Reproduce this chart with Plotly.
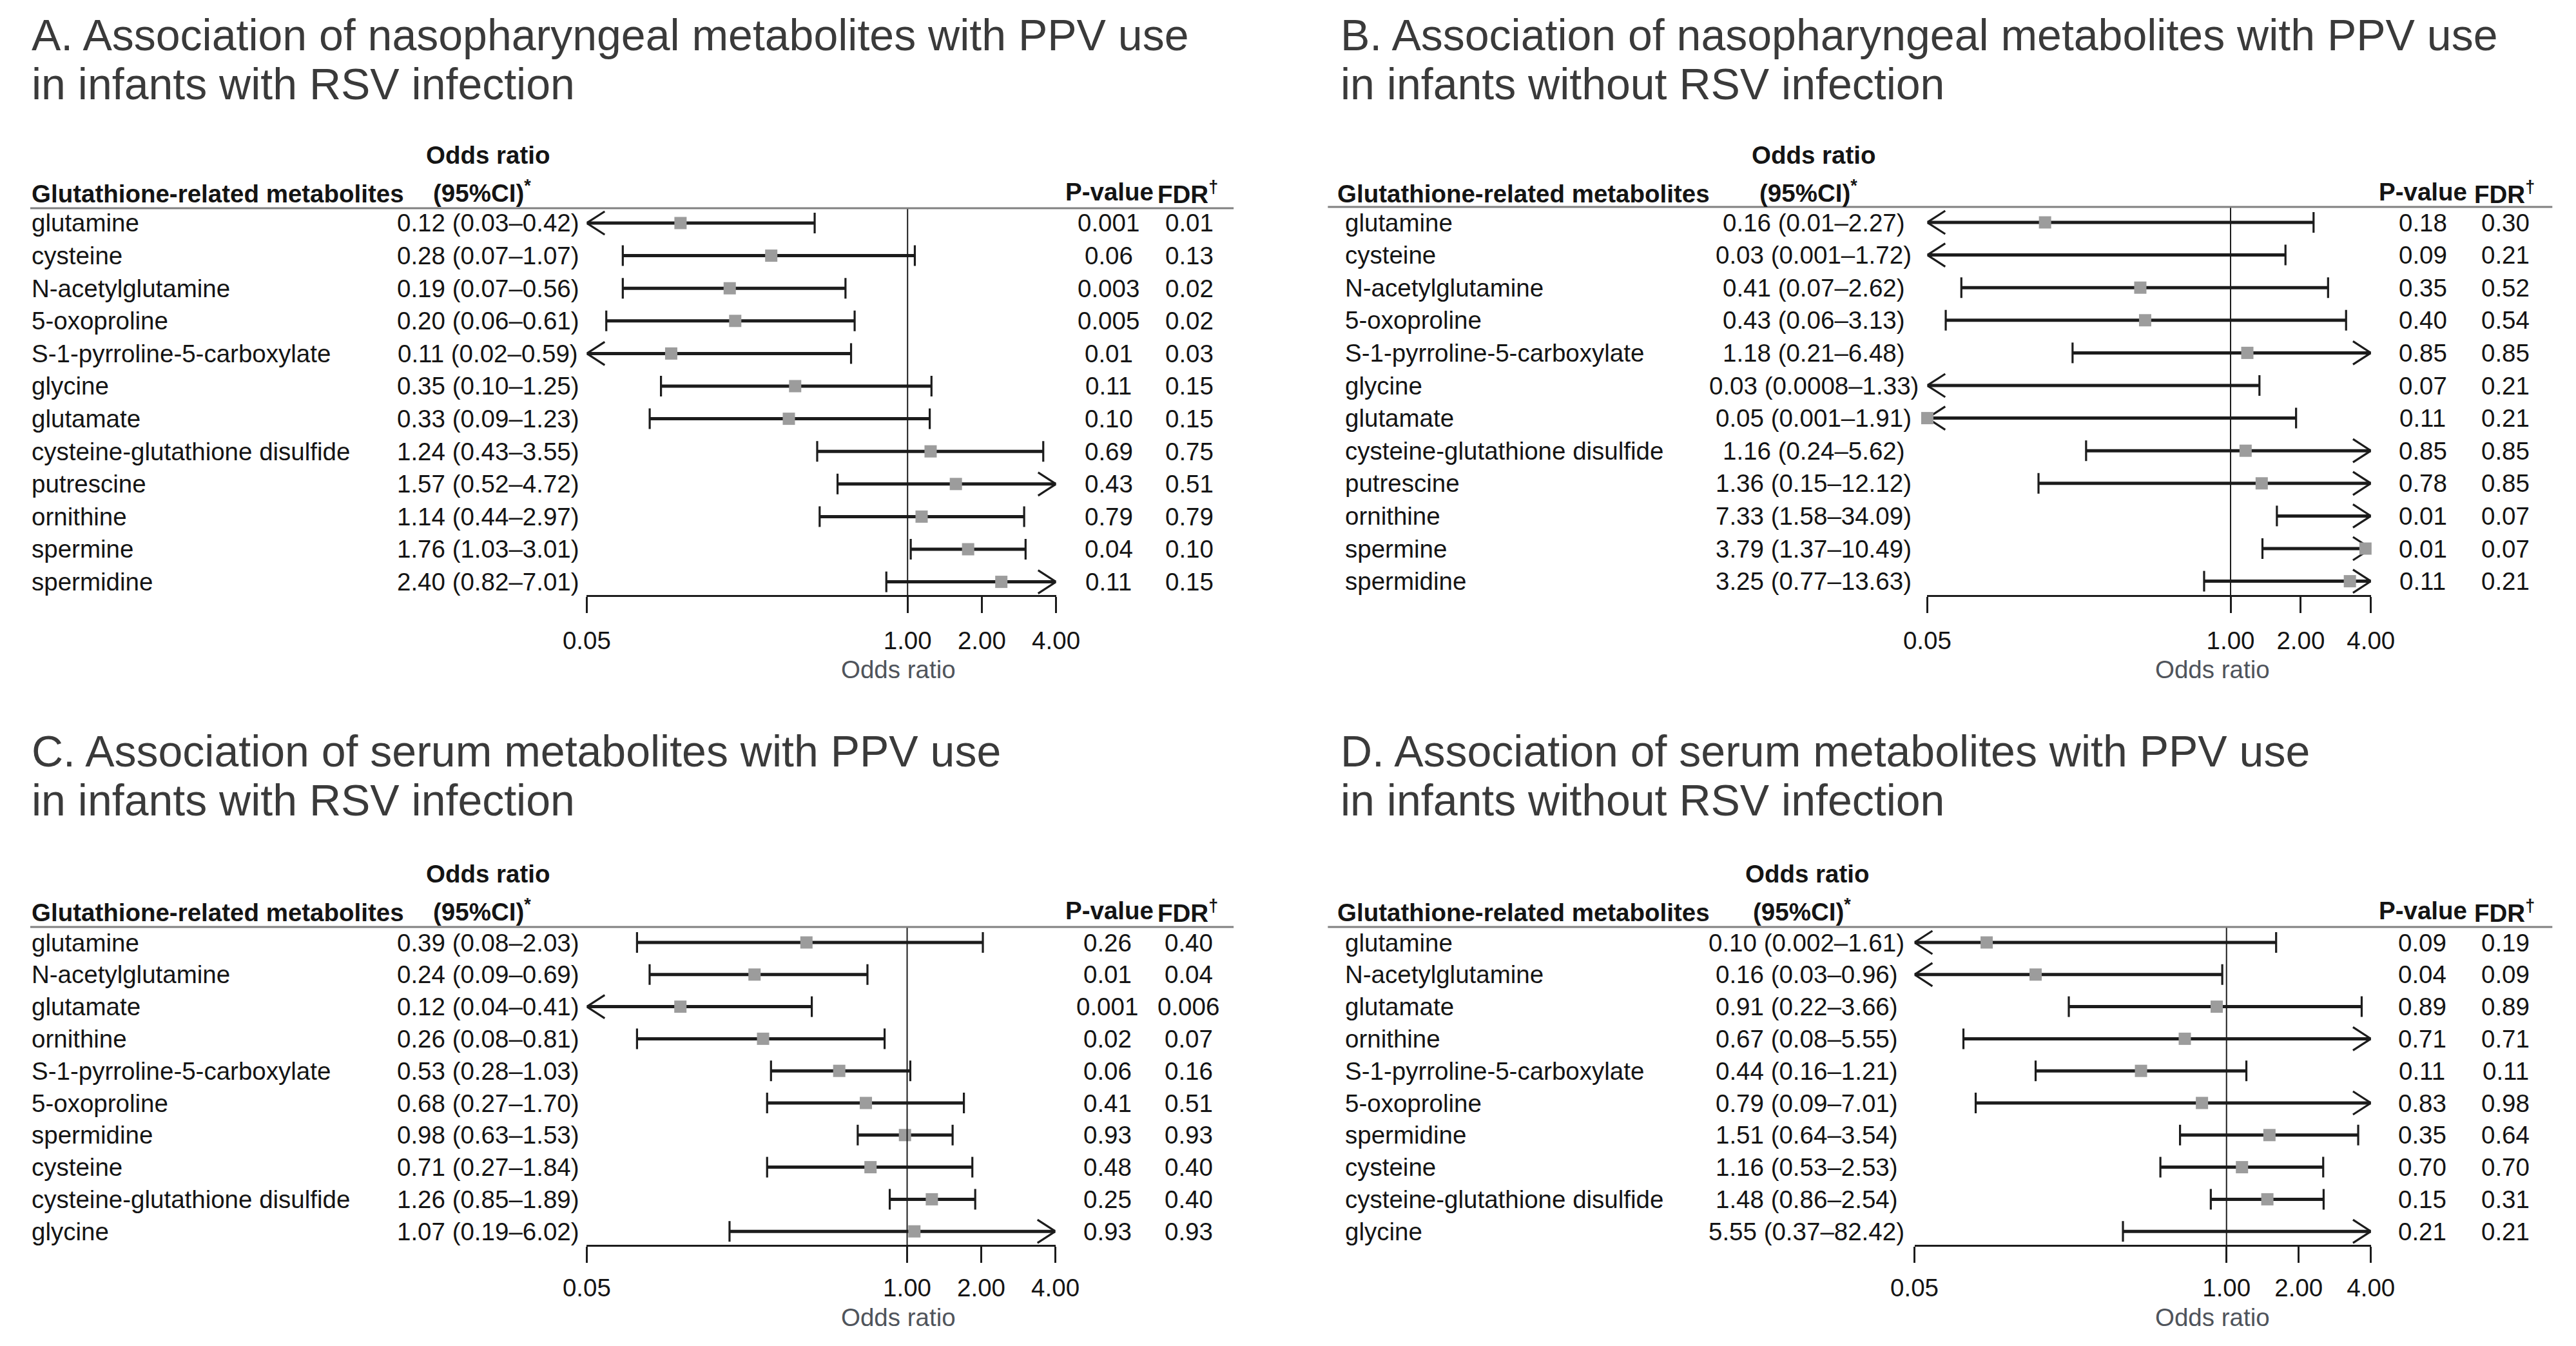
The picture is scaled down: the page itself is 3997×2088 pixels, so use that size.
import math
import plotly.graph_objects as go

# reference canvas and figure canvas (figure leaves room for the page's 8px body margin)
W_REF, H_REF = 3997, 2088
PAGE_MARGIN = 8
W, H = W_REF - 2 * PAGE_MARGIN, H_REF - 2 * PAGE_MARGIN
# observed placement of the figure inside the photographed page (photo px)
OX, SX = 44.0, 0.9866
OY, SY = 8.0, 1.0
FONT = "Liberation Sans, Arial, Helvetica, sans-serif"

# ---------------- data ----------------
NP_names = ["glutamine", "cysteine", "N-acetylglutamine", "5-oxoproline",
            "S-1-pyrroline-5-carboxylate", "glycine", "glutamate",
            "cysteine-glutathione disulfide", "putrescine", "ornithine",
            "spermine", "spermidine"]
A_or = [0.12, 0.28, 0.19, 0.20, 0.11, 0.35, 0.33, 1.24, 1.57, 1.14, 1.76, 2.40]
A_lo = [0.03, 0.07, 0.07, 0.06, 0.02, 0.10, 0.09, 0.43, 0.52, 0.44, 1.03, 0.82]
A_hi = [0.42, 1.07, 0.56, 0.61, 0.59, 1.25, 1.23, 3.55, 4.72, 2.97, 3.01, 7.01]
A_p = [0.001, 0.06, 0.003, 0.005, 0.01, 0.11, 0.10, 0.69, 0.43, 0.79, 0.04, 0.11]
A_fdr = [0.01, 0.13, 0.02, 0.02, 0.03, 0.15, 0.15, 0.75, 0.51, 0.79, 0.10, 0.15]

B_or = [0.16, 0.03, 0.41, 0.43, 1.18, 0.03, 0.05, 1.16, 1.36, 7.33, 3.79, 3.25]
B_lo = [0.01, 0.001, 0.07, 0.06, 0.21, 0.0008, 0.001, 0.24, 0.15, 1.58, 1.37, 0.77]
B_hi = [2.27, 1.72, 2.62, 3.13, 6.48, 1.33, 1.91, 5.62, 12.12, 34.09, 10.49, 13.63]
B_p = [0.18, 0.09, 0.35, 0.40, 0.85, 0.07, 0.11, 0.85, 0.78, 0.01, 0.01, 0.11]
B_fdr = [0.30, 0.21, 0.52, 0.54, 0.85, 0.21, 0.21, 0.85, 0.85, 0.07, 0.07, 0.21]

SE_names = ["glutamine", "N-acetylglutamine", "glutamate", "ornithine",
            "S-1-pyrroline-5-carboxylate", "5-oxoproline", "spermidine",
            "cysteine", "cysteine-glutathione disulfide", "glycine"]
C_or = [0.39, 0.24, 0.12, 0.26, 0.53, 0.68, 0.98, 0.71, 1.26, 1.07]
C_lo = [0.08, 0.09, 0.04, 0.08, 0.28, 0.27, 0.63, 0.27, 0.85, 0.19]
C_hi = [2.03, 0.69, 0.41, 0.81, 1.03, 1.70, 1.53, 1.84, 1.89, 6.02]
C_p = [0.26, 0.01, 0.001, 0.02, 0.06, 0.41, 0.93, 0.48, 0.25, 0.93]
C_fdr = [0.40, 0.04, 0.006, 0.07, 0.16, 0.51, 0.93, 0.40, 0.40, 0.93]

D_or = [0.10, 0.16, 0.91, 0.67, 0.44, 0.79, 1.51, 1.16, 1.48, 5.55]
D_lo = [0.002, 0.03, 0.22, 0.08, 0.16, 0.09, 0.64, 0.53, 0.86, 0.37]
D_hi = [1.61, 0.96, 3.66, 5.55, 1.21, 7.01, 3.54, 2.53, 2.54, 82.42]
D_p = [0.09, 0.04, 0.89, 0.71, 0.11, 0.83, 0.35, 0.70, 0.15, 0.21]
D_fdr = [0.19, 0.09, 0.89, 0.71, 0.11, 0.98, 0.64, 0.70, 0.31, 0.21]

TITLES = {
    "A": ["A. Association of nasopharyngeal metabolites with PPV use", "in infants with RSV infection"],
    "B": ["B. Association of nasopharyngeal metabolites with PPV use", "in infants without RSV infection"],
    "C": ["C. Association of serum metabolites with PPV use", "in infants with RSV infection"],
    "D": ["D. Association of serum metabolites with PPV use", "in infants without RSV infection"],
}
TICK_VALS = [0.05, 1, 2, 4]
TICK_TEXT = ["0.05", "1.00", "2.00", "4.00"]
X_MIN, X_MAX = 0.05, 4.0

# ---------------- layout geometry (reference pixels) ----------------
PANELS = [
    dict(key="A", names=NP_names, orv=A_or, lo=A_lo, hi=A_hi, p=A_p, fdr=A_fdr,
         title_x=36, title_y=[54, 130], or_hdr_x=760, ci_hdr_x=751, met_hdr_x=32,
         p_hdr_x=1729, fdr_hdr_x=1852, hdr1_y=241, hdr2_y=297,
         line_y=323, line_x0=19, line_x1=1923,
         names_x=41, or_x=760, p_x=1728, fdr_x=1854, r0=346, dy=50.6,
         ax_x0=914, ax_x1=1646, ax_y=923, axt_x=1400, axt_y=1038, tl_standoff=10),
    dict(key="B", names=NP_names, orv=B_or, lo=B_lo, hi=B_hi, p=B_p, fdr=B_fdr,
         title_x=2088, title_y=[54, 130], or_hdr_x=2828, ci_hdr_x=2820, met_hdr_x=2083,
         p_hdr_x=3778, fdr_hdr_x=3905, hdr1_y=241, hdr2_y=297,
         line_y=321, line_x0=2070, line_x1=3980,
         names_x=2095, or_x=2828, p_x=3778, fdr_x=3907, r0=345, dy=50.6,
         ax_x0=3005, ax_x1=3697, ax_y=923, axt_x=3450, axt_y=1038, tl_standoff=10),
    dict(key="C", names=SE_names, orv=C_or, lo=C_lo, hi=C_hi, p=C_p, fdr=C_fdr,
         title_x=36, title_y=[1165, 1241], or_hdr_x=760, ci_hdr_x=751, met_hdr_x=32,
         p_hdr_x=1729, fdr_hdr_x=1852, hdr1_y=1355, hdr2_y=1412,
         line_y=1438, line_x0=19, line_x1=1923,
         names_x=41, or_x=760, p_x=1726, fdr_x=1853, r0=1462, dy=49.8,
         ax_x0=914, ax_x1=1645, ax_y=1931, axt_x=1400, axt_y=2043, tl_standoff=6),
    dict(key="D", names=SE_names, orv=D_or, lo=D_lo, hi=D_hi, p=D_p, fdr=D_fdr,
         title_x=2088, title_y=[1165, 1241], or_hdr_x=2818, ci_hdr_x=2810, met_hdr_x=2083,
         p_hdr_x=3778, fdr_hdr_x=3905, hdr1_y=1355, hdr2_y=1412,
         line_y=1438, line_x0=2070, line_x1=3980,
         names_x=2095, or_x=2817, p_x=3777, fdr_x=3907, r0=1462, dy=49.8,
         ax_x0=2985, ax_x1=3697, ax_y=1931, axt_x=3450, axt_y=2043, tl_standoff=6),
]

TXT = "#141414"
TITLE_C = "#3a3a3a"
LINE_C = "#1c1c1c"
BOX_C = "#9c9c9c"
FS = 38.5
TFS = 68
ARROW_LEN_PX = 28
ARROW_HALF_PX = 18
CAP_HALF_PX = 16


def fmt(v):
    return f"{v:.2f}" if v >= 0.01 else f"{v:g}"


def fx(r):
    return max((r - OX) / SX, 2.0)


def fy(r):
    return (r - OY) / SY


def px(r):
    return fx(r) / W


def py(r):
    return 1 - fy(r) / H


fig = go.Figure()
annotations = []
shapes = []

for k, cfg in enumerate(PANELS, start=1):
    xa = "x" if k == 1 else f"x{k}"
    ya = "y" if k == 1 else f"y{k}"
    xname = "xaxis" if k == 1 else f"xaxis{k}"
    yname = "yaxis" if k == 1 else f"yaxis{k}"
    r0, dy = cfg["r0"], cfg["dy"]
    n = len(cfg["names"])
    y_top = (cfg["line_y"] - r0) / dy
    y_bot = (cfg["ax_y"] - r0) / dy

    fig.layout[xname] = dict(
        type="log", range=[math.log10(X_MIN), math.log10(X_MAX)],
        domain=[px(cfg["ax_x0"]), px(cfg["ax_x1"])], anchor=ya,
        showline=True, linecolor=LINE_C, linewidth=3,
        ticks="outside", ticklen=25, tickwidth=2.5, tickcolor=LINE_C,
        tickvals=TICK_VALS, ticktext=TICK_TEXT,
        tickfont=dict(family=FONT, size=FS, color=TXT),
        ticklabelstandoff=cfg["tl_standoff"],
        showgrid=False, zeroline=False, fixedrange=True)
    fig.layout[yname] = dict(
        range=[y_bot, y_top], domain=[py(cfg["ax_y"]), py(cfg["line_y"])],
        anchor=xa, visible=False, showgrid=False, zeroline=False, fixedrange=True)

    pxper = (fx(cfg["ax_x1"]) - fx(cfg["ax_x0"])) / math.log10(X_MAX / X_MIN)
    kfac = 10 ** ((ARROW_LEN_PX / SX) / pxper)
    ah = ARROW_HALF_PX / dy
    ch = CAP_HALF_PX / dy

    # CI lines, caps and arrowheads
    lx, ly = [], []
    cx, cy = [], []
    for i, (lo, hi) in enumerate(zip(cfg["lo"], cfg["hi"])):
        a = max(lo, X_MIN)
        b = min(hi, X_MAX)
        lx += [a, b, None]
        ly += [i, i, None]
        if lo < X_MIN:
            cx += [X_MIN * kfac, X_MIN, X_MIN * kfac, None]
            cy += [i - ah, i, i + ah, None]
        else:
            cx += [lo, lo, None]
            cy += [i - ch, i + ch, None]
        if hi > X_MAX:
            cx += [X_MAX / kfac, X_MAX, X_MAX / kfac, None]
            cy += [i - ah, i, i + ah, None]
        else:
            cx += [hi, hi, None]
            cy += [i - ch, i + ch, None]
    fig.add_trace(go.Scatter(x=lx, y=ly, mode="lines", xaxis=xa, yaxis=ya,
                             line=dict(color=LINE_C, width=5), cliponaxis=False,
                             hoverinfo="skip", showlegend=False))
    fig.add_trace(go.Scatter(x=cx, y=cy, mode="lines", xaxis=xa, yaxis=ya,
                             line=dict(color=LINE_C, width=3.2), cliponaxis=False,
                             hoverinfo="skip", showlegend=False))
    # point estimates
    ptx = [v for v in cfg["orv"] if X_MIN <= v <= X_MAX]
    pty = [i for i, v in enumerate(cfg["orv"]) if X_MIN <= v <= X_MAX]
    fig.add_trace(go.Scatter(x=ptx, y=pty, mode="markers", xaxis=xa, yaxis=ya,
                             marker=dict(symbol="square", size=19, color=BOX_C,
                                         line=dict(width=0)),
                             cliponaxis=False, hoverinfo="skip", showlegend=False))

    # reference line at OR = 1
    shapes.append(dict(type="line", xref=xa, yref=f"{ya} domain", x0=1, x1=1, y0=0, y1=1,
                       line=dict(color=LINE_C, width=2)))
    # header rule
    shapes.append(dict(type="line", xref="paper", yref="paper",
                       x0=px(cfg["line_x0"]), x1=px(cfg["line_x1"]),
                       y0=py(cfg["line_y"]), y1=py(cfg["line_y"]),
                       line=dict(color="#808080", width=3)))

    # titles
    for j, t in enumerate(TITLES[cfg["key"]]):
        annotations.append(dict(text=t, xref="paper", yref="paper",
                                x=px(cfg["title_x"]), y=py(cfg["title_y"][j]),
                                xanchor="left", yanchor="middle", showarrow=False,
                                font=dict(family=FONT, size=TFS, color=TITLE_C)))
    # column headers
    hb = dict(family=FONT, size=FS, color=TXT, weight="bold")
    hdrs = [
        dict(text="<b>Odds ratio</b>", x=px(cfg["or_hdr_x"]), y=py(cfg["hdr1_y"]),
             xanchor="center"),
        dict(text="<b>(95%CI)<sup>*</sup></b>", x=px(cfg["ci_hdr_x"]), y=py(cfg["hdr2_y"]),
             xanchor="center"),
        dict(text="<b>Glutathione-related metabolites</b>", x=px(cfg["met_hdr_x"]),
             y=py(cfg["hdr2_y"] + 3), xanchor="left"),
        dict(text="<b>P-value</b>", x=px(cfg["p_hdr_x"]), y=py(cfg["hdr2_y"]),
             xanchor="center"),
        dict(text="<b>FDR<sup>†</sup></b>", x=px(cfg["fdr_hdr_x"]), y=py(cfg["hdr2_y"] + 2),
             xanchor="center"),
    ]
    for a in hdrs:
        a.update(xref="paper", yref="paper", yanchor="middle", showarrow=False, font=hb)
    annotations += hdrs

    # axis title
    annotations.append(dict(text="Odds ratio", xref="paper", yref="paper",
                            x=px(cfg["axt_x"]), y=py(cfg["axt_y"]),
                            xanchor="center", yanchor="middle", showarrow=False,
                            font=dict(family=FONT, size=FS, color="#4f545b")))

    # table rows
    bf = dict(family=FONT, size=FS, color=TXT)
    for i in range(n):
        or_txt = f"{fmt(cfg['orv'][i])} ({fmt(cfg['lo'][i])}\u2013{fmt(cfg['hi'][i])})"
        for text, xx, anc in [(cfg["names"][i], cfg["names_x"], "left"),
                              (or_txt, cfg["or_x"], "center"),
                              (fmt(cfg["p"][i]), cfg["p_x"], "center"),
                              (fmt(cfg["fdr"][i]), cfg["fdr_x"], "center")]:
            annotations.append(dict(text=text, xref="paper", yref=ya, x=px(xx), y=i,
                                    xanchor=anc, yanchor="middle", showarrow=False,
                                    font=bf))

fig.update_layout(width=W, height=H, margin=dict(l=0, r=0, t=0, b=0),
                  paper_bgcolor="white", plot_bgcolor="rgba(0,0,0,0)",
                  showlegend=False, annotations=annotations, shapes=shapes,
                  font=dict(family=FONT, size=FS, color=TXT))

fig.write_html("out.html")
